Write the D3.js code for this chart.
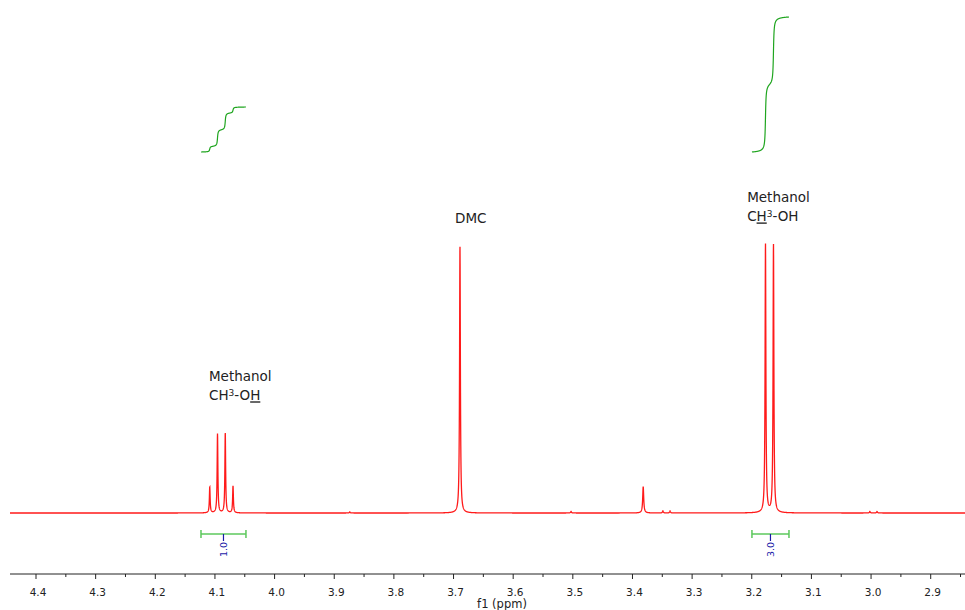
<!DOCTYPE html>
<html>
<head>
<meta charset="utf-8">
<script src="https://cdn.jsdelivr.net/npm/d3@7"></script>
<style>
  html, body { margin: 0; padding: 0; background: #fff; }
  svg { display: block; }
  text { font-family: "DejaVu Sans", Verdana, sans-serif; }
</style>
</head>
<body>
<svg id="chart" width="965" height="610"></svg>
<script>
// ---- Data ----
// peak list: chemical shift (ppm), height (DMC peak = 100), half width at half max (ppm)
const peakShifts  = [4.1087, 4.0957, 4.0827, 4.0697, 3.8740, 3.6892, 3.5030, 3.3820, 3.3490, 3.3370, 3.1770, 3.1636, 3.0020, 2.9900];
const peakHeights = [9.7,    29.6,   30.0,   10.1,   0.4,    100.0,  0.6,    9.9,    0.8,    0.8,    100.7,  100.7,  0.6,    0.6];
const peakWidths  = [0.00075,0.00075,0.00075,0.00075,0.0008, 0.0008, 0.0008, 0.0010, 0.0008, 0.0008, 0.0008, 0.0008, 0.0008, 0.0008];

// integration regions
const integralFrom   = [4.1234, 3.1997];
const integralTo     = [4.0480, 3.1376];
const integralValues = [1.0, 3.0];

// axis tick labels
const tickLabels = ["4.4","4.3","4.2","4.1","4.0","3.9","3.8","3.7","3.6","3.5","3.4","3.3","3.2","3.1","3.0","2.9"];
const minorTicks = [4.45,4.35,4.25,4.15,4.05,3.95,3.85,3.75,3.65,3.55,3.45,3.35,3.25,3.15,3.05,2.95,2.85];

// annotations (text parts: "^x" = superscript, "x_" = underlined)
const annotations = [
  { ppm: 4.1100, lines: [["Methanol"], ["CH", "^3", "-O", "H_"]], yv: 49.5 },
  { ppm: 3.6975, lines: [["DMC"]], yv: 108.5 },
  { ppm: 3.2077, lines: [["Methanol"], ["C", "H_", "^3", "-OH"]], yv: 116.5 }
];

// ---- Scales ----
const svg = d3.select("#chart");
const x = d3.scaleLinear().domain([4.4436, 2.8425]).range([10, 965]);
const y = d3.scaleLinear().domain([0, 100]).range([513, 246]);
const yInt = d3.scaleLinear().domain([0, 3]).range([152, 17]);

function spectrum(p) {
  let s = 0;
  for (let i = 0; i < peakShifts.length; i++) {
    const d = (p - peakShifts[i]) / peakWidths[i];
    s += peakHeights[i] / (1 + d * d);
  }
  return s;
}

// sample the spectrum along the x range
const samples = d3.range(10, 965.01, 0.1).map(px => {
  const p = x.invert(px);
  return [p, spectrum(p)];
});

svg.append("path")
  .datum(samples)
  .attr("fill", "none")
  .attr("stroke", "#ff1a1a")
  .attr("stroke-width", 1.3)
  .attr("d", d3.line().x(d => x(d[0])).y(d => y(d[1])));

// ---- Integrals ----
integralFrom.forEach((from, k) => {
  const to = integralTo[k];
  const val = integralValues[k];
  const step = (from - to) / 2000;
  const pts = [];
  let acc = 0;
  for (let p = from; p >= to - 1e-9; p -= step) {
    acc += spectrum(p) * step;
    pts.push([p, acc]);
  }
  const total = acc;
  const scaled = pts.map(d => [d[0], d[1] / total * val]);
  svg.append("path")
    .datum(scaled)
    .attr("fill", "none")
    .attr("stroke", "#1fa51f")
    .attr("stroke-width", 1.2)
    .attr("d", d3.line().x(d => x(d[0])).y(d => yInt(d[1])));

  // integral bar
  const by = 534;
  const g = svg.append("g").attr("stroke", "#5cc85c").attr("stroke-width", 1.5);
  g.append("line").attr("x1", x(from)).attr("x2", x(to)).attr("y1", by).attr("y2", by);
  g.append("line").attr("x1", x(from)).attr("x2", x(from)).attr("y1", by - 4).attr("y2", by + 4);
  g.append("line").attr("x1", x(to)).attr("x2", x(to)).attr("y1", by - 4).attr("y2", by + 4);
  const cx = (x(from) + x(to)) / 2;
  svg.append("line").attr("x1", cx).attr("x2", cx).attr("y1", by).attr("y2", by + 7)
    .attr("stroke", "#1a1aa8").attr("stroke-width", 1.2);
  svg.append("text")
    .attr("transform", `translate(${cx},${by + 8}) rotate(-90)`)
    .attr("text-anchor", "end")
    .attr("dominant-baseline", "central")
    .attr("font-size", 9.5)
    .attr("fill", "#1a1aa8")
    .text(val.toFixed(1));
});

// ---- Axis ----
const axisY = 574;
svg.append("line").attr("x1", 10).attr("x2", 965).attr("y1", axisY).attr("y2", axisY)
  .attr("stroke", "#222").attr("stroke-width", 1);
const axis = svg.append("g");
tickLabels.forEach(t => {
  const px = x(+t);
  axis.append("line").attr("x1", px).attr("x2", px).attr("y1", axisY).attr("y2", axisY + 5)
    .attr("stroke", "#222").attr("stroke-width", 1);
  axis.append("text").attr("x", px + 2).attr("y", 596)
    .attr("text-anchor", "middle").attr("font-size", 10.5).attr("fill", "#222").text(t);
});
minorTicks.forEach(t => {
  const px = x(t);
  if (px < 10 || px > 965) return;
  axis.append("line").attr("x1", px).attr("x2", px).attr("y1", axisY).attr("y2", axisY + 3)
    .attr("stroke", "#222").attr("stroke-width", 1);
});
svg.append("text").attr("x", 502).attr("y", 607.5).attr("text-anchor", "middle")
  .attr("font-size", 11.5).attr("fill", "#222").text("f1 (ppm)");

// ---- Annotations ----
annotations.forEach(a => {
  const x0 = x(a.ppm);
  const topY = y(a.yv);
  a.lines.forEach((parts, li) => {
    const t = svg.append("text").attr("x", x0).attr("y", topY + li * 19.5)
      .attr("font-size", 13.5).attr("fill", "#222");
    let pendingDy = 0;
    parts.forEach(part => {
      let ts;
      if (part.startsWith("^")) {
        ts = t.append("tspan").attr("font-size", 9).attr("dy", pendingDy - 4).text(part.slice(1));
        pendingDy = 4;
        return;
      } else if (part.endsWith("_")) {
        ts = t.append("tspan").attr("text-decoration", "underline").text(part.slice(0, -1));
      } else {
        ts = t.append("tspan").text(part);
      }
      if (pendingDy) { ts.attr("dy", pendingDy); pendingDy = 0; }
    });
  });
});
</script>
</body>
</html>
